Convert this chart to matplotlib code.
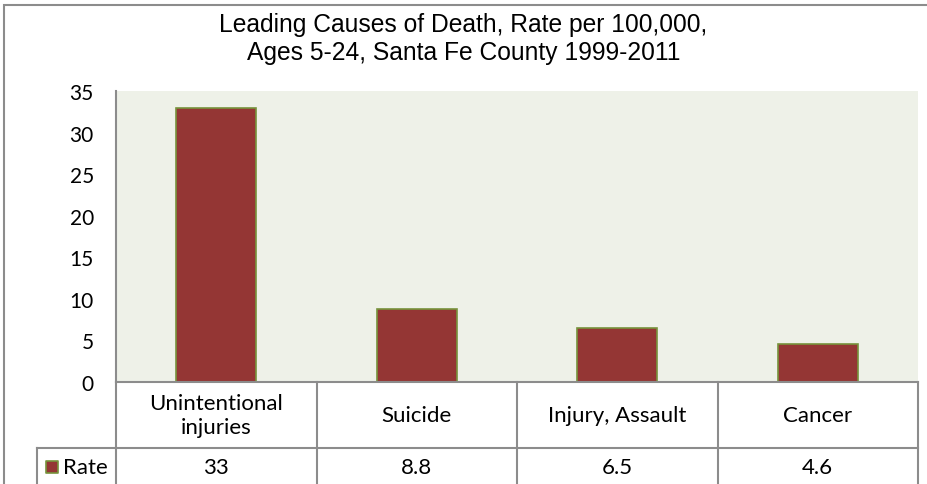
import matplotlib
matplotlib.use('Agg')
import matplotlib.pyplot as plt
from matplotlib.transforms import blended_transform_factory
from matplotlib.patches import Rectangle

categories = ['Unintentional\ninjuries', 'Suicide', 'Injury, Assault', 'Cancer']
rates = [33, 8.8, 6.5, 4.6]
rate_labels = ['33', '8.8', '6.5', '4.6']
series_name = 'Rate'
yticks = [0, 5, 10, 15, 20, 25, 30, 35]
title = 'Leading Causes of Death, Rate per 100,000,\nAges 5-24, Santa Fe County 1999-2011'

BAR_COLOR = '#943634'
EDGE_COLOR = '#77933C'
BG_COLOR = '#EEF1E8'
LINE_COLOR = '#8C8C8C'
TXT_FONT = ['Lato', 'DejaVu Sans']
FS = 16

W, H = 927, 485
fig = plt.figure(figsize=(W / 100, H / 100), dpi=100)

# outer chart border
fig.add_artist(Rectangle((4 / W, -0.1), 1.2, (H - 6) / H + 0.1, transform=fig.transFigure,
                         fill=False, edgecolor=LINE_COLOR, linewidth=1.5))

# plot area in pixel coords
x0, x1, ytop, ybot = 116, 918, 92, 383
ax = fig.add_axes([x0 / W, 1 - ybot / H, (x1 - x0) / W, (ybot - ytop) / H])
ax.set_facecolor(BG_COLOR)
ax.bar(range(len(rates)), rates, width=0.4, color=BAR_COLOR, edgecolor=EDGE_COLOR, linewidth=1.2)
ax.set_xlim(-0.5, len(rates) - 0.5)
ax.set_ylim(0, 35)
ax.set_yticks(yticks)
ax.set_yticklabels([str(t) for t in yticks], fontsize=15, family=TXT_FONT)
ax.tick_params(axis='y', length=0, pad=16)
ax.set_xticks([])
for s in ['top', 'right']:
    ax.spines[s].set_visible(False)
for s in ['left', 'bottom']:
    ax.spines[s].set_color(LINE_COLOR)
    ax.spines[s].set_linewidth(1.5)

fig.text(0.5, 1 - 39 / H, title, ha='center', va='center', fontsize=17.7,
         family=['Liberation Sans', 'DejaVu Sans'], linespacing=1.22)

# data table below the axis
ah = ybot - ytop
colw = (x1 - x0) / len(rates)
row1 = -(449 - ybot) / ah   # header row bottom in axes fraction
row2 = -(H + 5 - ybot) / ah
ymid = (row1 - (487 - ybot) / ah) / 2
tr = blended_transform_factory(ax.transData, ax.transAxes)
n = len(rates)
kw = dict(color=LINE_COLOR, lw=1.5, clip_on=False)
for i in range(n + 1):
    ax.plot([i - 0.5, i - 0.5], [0, row2], transform=tr, **kw)
ax.plot([-0.5, n - 0.5], [row1, row1], transform=tr, **kw)
# legend cell
leg_left = -0.5 - (116 - 37) / colw
ax.plot([leg_left, -0.5], [row1, row1], transform=tr, **kw)
ax.plot([leg_left, leg_left], [row1, row2], transform=tr, **kw)

for i, (c, v) in enumerate(zip(categories, rate_labels)):
    ax.text(i, row1 / 2, c, transform=tr, ha='center', va='center', fontsize=FS,
            family=TXT_FONT, linespacing=1.2)
    ax.text(i, ymid, v, transform=tr, ha='center', va='center', fontsize=FS, family=TXT_FONT)

ax.text(-0.5 - 8 / colw, ymid, series_name, transform=tr, ha='right', va='center', fontsize=FS,
        family=TXT_FONT)
ax.scatter([leg_left + 15 / colw], [ymid], marker='s', s=85, color=BAR_COLOR, edgecolor=EDGE_COLOR,
           linewidth=1.2, transform=tr, clip_on=False, zorder=5)

fig.savefig('out.png', dpi=100)
